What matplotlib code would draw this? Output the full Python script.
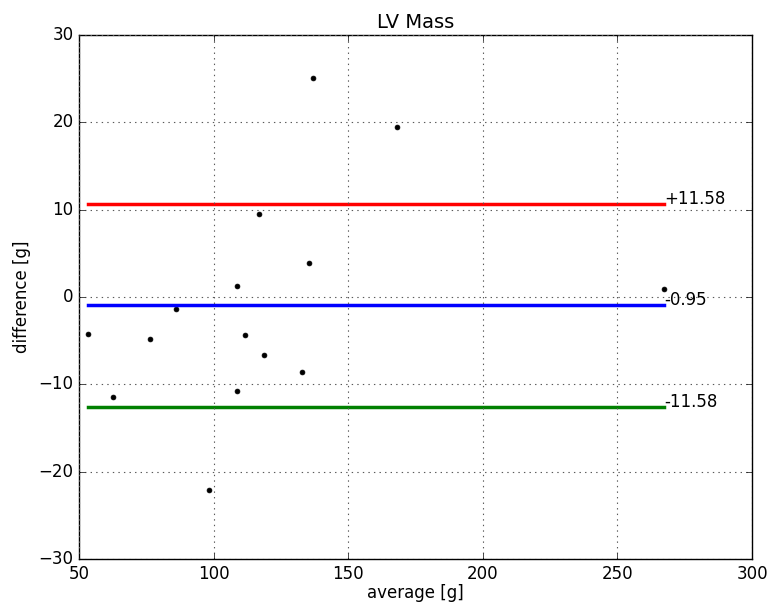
import numpy as np
import matplotlib
matplotlib.use("Agg")
import matplotlib.pyplot as plt

plt.style.use('classic')

# -------- datos --------
promedio = [53.5, 62.5, 76.5, 86.0, 98.3, 108.7, 108.7, 111.8, 117.0, 118.6,
            133.0, 135.3, 136.9, 168.3, 267.3]
diferencia = [-4.23, -11.44, -4.84, -1.41, -22.1, 1.29, -10.7, -4.35, 9.49, -6.67,
              -8.6, 3.89, 25.05, 19.4, 0.95]

media = -0.95
limite = 11.58
etiquetas = ['+11.58', '-0.95', '-11.58']

x = np.array(promedio)
y = np.array(diferencia)

fig = plt.figure(figsize=(7.69, 6.03), dpi=100, facecolor='white')
ax = fig.add_axes([0.1027, 0.0725, 0.8753, 0.87])

ax.plot(x, y, 'k.', markersize=7)

x_lin = [x.min(), x.max()]
niveles = [media + limite, media, media - limite]
colores = ['red', 'blue', 'green']
for nivel, col, etq in zip(niveles, colores, etiquetas):
    ax.plot(x_lin, [nivel, nivel], color=col, linewidth=2.5)
    ax.text(x.max(), nivel, etq, fontsize=12)

ax.set_xlim(50, 300)
ax.set_ylim(-30, 30)
ax.set_xticks([50, 100, 150, 200, 250, 300])
ax.set_yticks([-30, -20, -10, 0, 10, 20, 30])
ax.tick_params(labelsize=12)
ax.set_xlabel('average [g]', fontsize=12, labelpad=1)
ax.set_ylabel('difference [g]', fontsize=12)
ax.set_title('LV Mass', fontsize=14)
ax.grid(True, color='0.35', linestyle=':', linewidth=0.8)

plt.savefig('out.png', dpi=100, facecolor='white')
